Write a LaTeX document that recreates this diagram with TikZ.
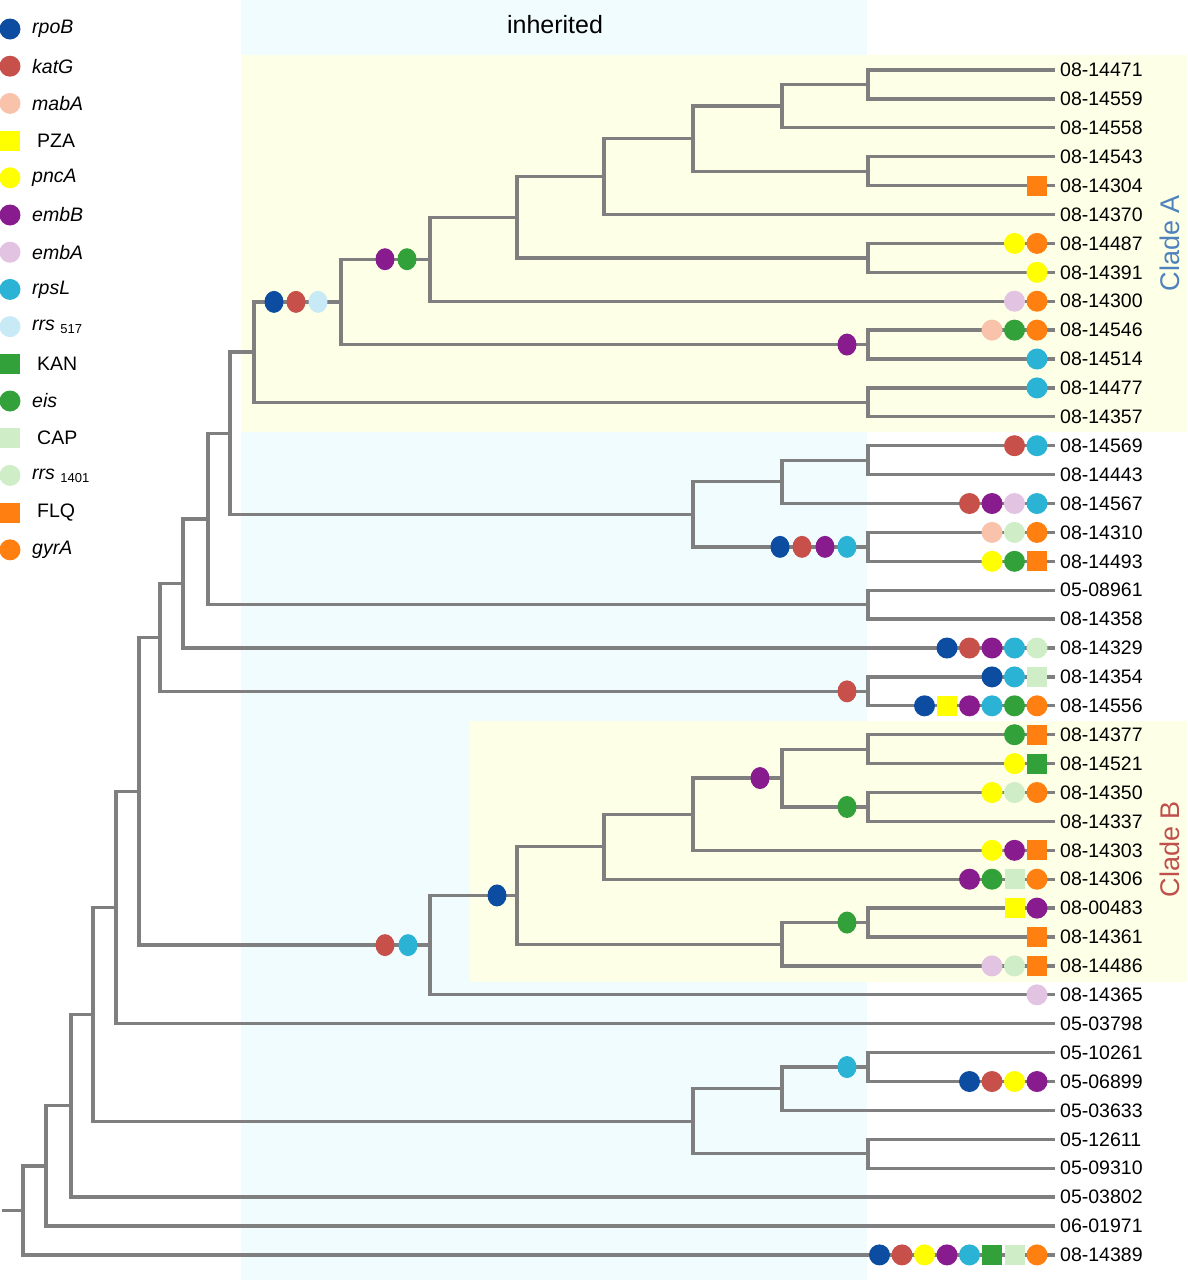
\documentclass[tikz,border=0pt]{standalone}
\usepackage{fontspec}
\setmainfont{Liberation Sans}
\usetikzlibrary{positioning,calc,shapes.geometric}

\definecolor{treegray}{HTML}{7F7F7F}
\definecolor{inhbg}{HTML}{F1FCFF}
\definecolor{cladebg}{HTML}{FDFFE6}
\definecolor{cA}{HTML}{4F81BD}
\definecolor{cB}{HTML}{C0504D}
\definecolor{cRpoB}{HTML}{0C4DA2}
\definecolor{cKatG}{HTML}{C8504B}
\definecolor{cMabA}{HTML}{F9C3AB}
\definecolor{cYellow}{HTML}{FFFF00}
\definecolor{cEmbB}{HTML}{881C8E}
\definecolor{cEmbA}{HTML}{E2C3E2}
\definecolor{cRpsL}{HTML}{2BB3D6}
\definecolor{cRrsA}{HTML}{C8EAF7}
\definecolor{cGreen}{HTML}{33A139}
\definecolor{cLtGreen}{HTML}{CFEDC7}
\definecolor{cOrange}{HTML}{FF8010}

\tikzset{
	branch/.style={draw=treegray, line width=3.3pt},
	leaf/.style={anchor=west, inner xsep=5pt, inner ysep=0pt, font=\fontsize{19.5}{22}\selectfont},
	legendtext/.style={anchor=west, inner sep=0pt, font=\fontsize{19.5}{22}\selectfont},
	mdot/.style={circle, minimum size=21pt, inner sep=0pt},
	mbox/.style={rectangle, minimum size=20pt, inner sep=0pt},
	oval/.style={ellipse, minimum width=19pt, minimum height=22pt},
	rpoB/.style={mdot, fill=cRpoB},
	katG/.style={mdot, fill=cKatG},
	mabA/.style={mdot, fill=cMabA},
	PZA/.style={mbox, fill=cYellow},
	pncA/.style={mdot, fill=cYellow},
	embB/.style={mdot, fill=cEmbB},
	embA/.style={mdot, fill=cEmbA},
	rpsL/.style={mdot, fill=cRpsL},
	rrsA/.style={mdot, fill=cRrsA},
	KAN/.style={mbox, fill=cGreen},
	eis/.style={mdot, fill=cGreen},
	CAP/.style={mbox, fill=cLtGreen},
	rrsB/.style={mdot, fill=cLtGreen},
	FLQ/.style={mbox, fill=cOrange},
	gyrA/.style={mdot, fill=cOrange},
}

% y of the i-th tip
\newcommand\leafy[1]{70+(#1-1)*28.9}

% inner node #1 at x=#2 joining #3 and #4
\newcommand\branchnode[4]{%
	\coordinate (#1) at ($(#3)!0.5!(#4)$);
	\coordinate (#1) at (#2,0 |- #1);
	\draw[branch] (#3) -| (#1) |- (#4);
}

% mutations in front of tip #1, left to right
\newcommand\mutations[2]{%
	\foreach \m [count=\n] in {#2} {\xdef\nmut{\n}}
	\foreach \m [count=\k] in {#2}
		\node[\m] (l#1-\k) at ({\xTip-18-22.5*(\nmut-\k)}, {\leafy{#1}}) {};
}

\begin{document}
\begin{tikzpicture}[x=1pt, y=-1pt]

	\def\xTip{1055}

	\useasboundingbox (0,0) rectangle (1187,1280);

	% shading
	\fill[inhbg] (241,0) rectangle (867,1280);
	\fill[cladebg] (241,55) rectangle (1187,432);
	\fill[cladebg] (470,721) rectangle (1187,982);

	\node[font=\fontsize{25}{28}\selectfont] (inh) at (555,25) {inherited};
	\node[rotate=90, text=cA, font=\fontsize{27}{30}\selectfont] (cladeA) at (1170,243) {Clade A};
	\node[rotate=90, text=cB, font=\fontsize{27}{30}\selectfont] (cladeB) at (1170,849) {Clade B};

	% legend
	\foreach \sty/\txt [count=\i] in {
		rpoB/\textit{rpoB}, katG/\textit{katG}, mabA/\textit{mabA},
		PZA/\hspace{5pt}PZA, pncA/\textit{pncA}, embB/\textit{embB},
		embA/\textit{embA}, rpsL/\textit{rpsL},
		rrsA/{\textit{rrs}\ \raisebox{-3pt}{\fontsize{13}{14}\selectfont 517}},
		KAN/\hspace{5pt}KAN, eis/\textit{eis}, CAP/\hspace{5pt}CAP,
		rrsB/{\textit{rrs}\ \raisebox{-3pt}{\fontsize{13}{14}\selectfont 1401}},
		FLQ/\hspace{5pt}FLQ, gyrA/\textit{gyrA}}{
		\node[\sty] (key\i) at (10, {29+(\i-1)*37.2}) {};
		\node[legendtext] (keytxt\i) at (32, {29+(\i-1)*37.2}) {\txt};
	}

	% tips
	\foreach \iso [count=\i] in {
		08-14471, 08-14559, 08-14558, 08-14543, 08-14304, 08-14370,
		08-14487, 08-14391, 08-14300, 08-14546, 08-14514, 08-14477,
		08-14357, 08-14569, 08-14443, 08-14567, 08-14310, 08-14493,
		05-08961, 08-14358, 08-14329, 08-14354, 08-14556, 08-14377,
		08-14521, 08-14350, 08-14337, 08-14303, 08-14306, 08-00483,
		08-14361, 08-14486, 08-14365, 05-03798, 05-10261, 05-06899,
		05-03633, 05-12611, 05-09310, 05-03802, 06-01971, 08-14389}{
		\node[leaf] (l\i) at (\xTip, {\leafy{\i}}) {\iso};
	}

	% clade A
	\branchnode{a1}{868}{l1}{l2}
	\branchnode{a2}{782}{a1}{l3}
	\branchnode{a3}{868}{l4}{l5}
	\branchnode{a4}{693}{a2}{a3}
	\branchnode{a5}{604}{a4}{l6}
	\branchnode{a6}{868}{l7}{l8}
	\branchnode{a7}{517}{a5}{a6}
	\branchnode{a8}{430}{a7}{l9}
	\branchnode{a9}{868}{l10}{l11}
	\branchnode{a10}{341}{a8}{a9}
	\branchnode{a11}{868}{l12}{l13}
	\branchnode{a12}{254}{a10}{a11}

	% middle
	\branchnode{b1}{868}{l14}{l15}
	\branchnode{b2}{782}{b1}{l16}
	\branchnode{b3}{868}{l17}{l18}
	\branchnode{b4}{693}{b2}{b3}
	\branchnode{b5}{230}{a12}{b4}
	\branchnode{b6}{868}{l19}{l20}
	\branchnode{b7}{208}{b5}{b6}
	\branchnode{b8}{183}{b7}{l21}
	\branchnode{b9}{868}{l22}{l23}
	\branchnode{b10}{160}{b8}{b9}

	% clade B
	\branchnode{c1}{868}{l24}{l25}
	\branchnode{c2}{868}{l26}{l27}
	\branchnode{c3}{782}{c1}{c2}
	\branchnode{c4}{693}{c3}{l28}
	\branchnode{c5}{604}{c4}{l29}
	\branchnode{c6}{868}{l30}{l31}
	\branchnode{c7}{782}{c6}{l32}
	\branchnode{c8}{517}{c5}{c7}
	\branchnode{c9}{430}{c8}{l33}
	\branchnode{c10}{139}{b10}{c9}

	% base
	\branchnode{d1}{116}{c10}{l34}
	\branchnode{d2}{868}{l35}{l36}
	\branchnode{d3}{782}{d2}{l37}
	\branchnode{d4}{868}{l38}{l39}
	\branchnode{d5}{693}{d3}{d4}
	\branchnode{d6}{93}{d1}{d5}
	\branchnode{d7}{71}{d6}{l40}
	\branchnode{d8}{46}{d7}{l41}
	\branchnode{d9}{23}{d8}{l42}
	\coordinate (root) at (2,0 |- d9);
	\draw[branch] (root) -- (d9);

	% mutations on inner branches
	\node[rpoB, oval] (a10-1) at (274,0 |- a10) {};
	\node[katG, oval] (a10-2) at (296,0 |- a10) {};
	\node[rrsA, oval] (a10-3) at (318,0 |- a10) {};
	\node[embB, oval] (a8-1) at (385,0 |- a8) {};
	\node[eis, oval] (a8-2) at (407,0 |- a8) {};
	\node[embB, oval] (a9-1) at (847,0 |- a9) {};
	\node[rpoB, oval] (b3-1) at (780,0 |- b3) {};
	\node[katG, oval] (b3-2) at (802,0 |- b3) {};
	\node[embB, oval] (b3-3) at (825,0 |- b3) {};
	\node[rpsL, oval] (b3-4) at (847,0 |- b3) {};
	\node[katG, oval] (b9-1) at (847,0 |- b9) {};
	\node[embB, oval] (c3-1) at (760,0 |- c3) {};
	\node[eis, oval] (c2-1) at (847,0 |- c2) {};
	\node[eis, oval] (c6-1) at (847,0 |- c6) {};
	\node[rpoB, oval] (c8-1) at (497,0 |- c8) {};
	\node[katG, oval] (c9-1) at (385,0 |- c9) {};
	\node[rpsL, oval] (c9-2) at (408,0 |- c9) {};
	\node[rpsL, oval] (d2-1) at (847,0 |- d2) {};

	% mutations at the tips
	\mutations{5}{FLQ}
	\mutations{7}{pncA,gyrA}
	\mutations{8}{pncA}
	\mutations{9}{embA,gyrA}
	\mutations{10}{mabA,eis,gyrA}
	\mutations{11}{rpsL}
	\mutations{12}{rpsL}
	\mutations{14}{katG,rpsL}
	\mutations{16}{katG,embB,embA,rpsL}
	\mutations{17}{mabA,rrsB,gyrA}
	\mutations{18}{pncA,eis,FLQ}
	\mutations{21}{rpoB,katG,embB,rpsL,rrsB}
	\mutations{22}{rpoB,rpsL,CAP}
	\mutations{23}{rpoB,PZA,embB,rpsL,eis,gyrA}
	\mutations{24}{eis,FLQ}
	\mutations{25}{pncA,KAN}
	\mutations{26}{pncA,rrsB,gyrA}
	\mutations{28}{pncA,embB,FLQ}
	\mutations{29}{embB,eis,CAP,gyrA}
	\mutations{30}{PZA,embB}
	\mutations{31}{FLQ}
	\mutations{32}{embA,rrsB,FLQ}
	\mutations{33}{embA}
	\mutations{36}{rpoB,katG,pncA,embB}
	\mutations{42}{rpoB,katG,pncA,embB,rpsL,KAN,CAP,gyrA}

\end{tikzpicture}
\end{document}
